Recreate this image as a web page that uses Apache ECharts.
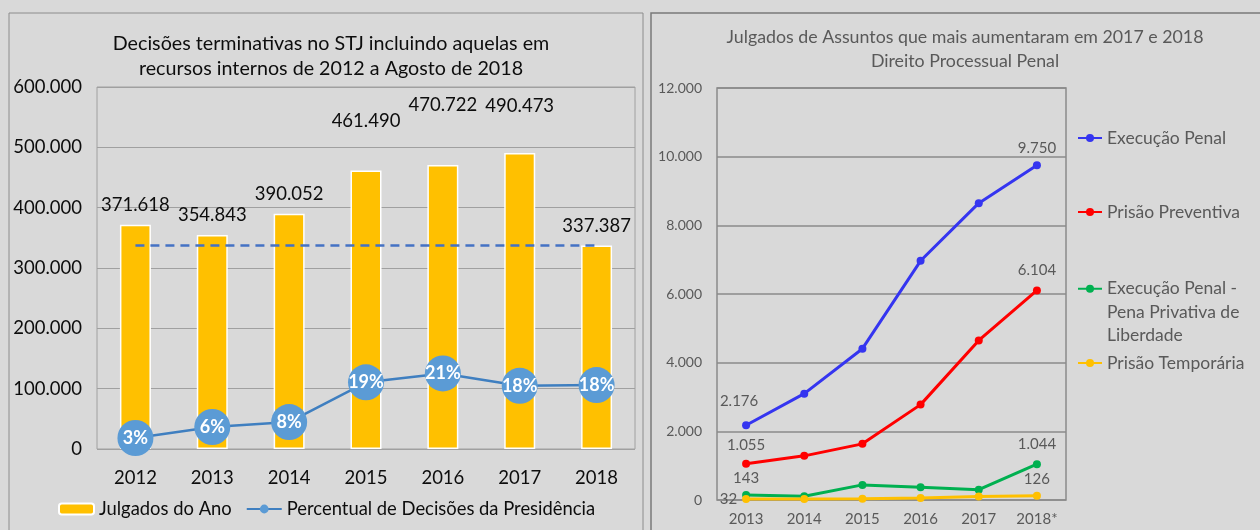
<!DOCTYPE html>
<html>
<head>
<meta charset="utf-8">
<script src="https://cdn.jsdelivr.net/npm/echarts@6/dist/echarts.min.js"></script>
<style>
  html, body { margin: 0; padding: 0; background: #d9d9d9; }
  #main { width: 1260px; height: 530px; }
</style>
</head>
<body>
<div id="main"></div>
<script>
// painel esquerdo
const years = ['2012', '2013', '2014', '2015', '2016', '2017', '2018'];
const julgados = [371618, 354843, 390052, 461490, 470722, 490473, 337387];
const percentual = [0.031, 0.062, 0.076, 0.188, 0.213, 0.178, 0.180];
const referenceLevel = 337387;

// painel direito
const anos = ['2013', '2014', '2015', '2016', '2017', '2018*'];
const execucaoPenal = [2176, 3098, 4407, 6967, 8646, 9750];
const prisaoPreventiva = [1055, 1286, 1635, 2778, 4649, 6104];
const penaPrivativa = [143, 110, 440, 370, 300, 1044];
const prisaoTemporaria = [32, 30, 40, 60, 100, 126];

const FONT = 'Lato';
const GRAY = '#595959';
const INK = '#0d0d0d';

function fmt(v) {
  return String(v).replace(/\B(?=(\d{3})+(?!\d))/g, '.');
}

// distancia dos rotulos das barras (alguns foram erguidos no original)
const barLabelLift = [10, 10, 10, 40, 50, 38, 10];

const barData = julgados.map((v, i) => ({
  value: v,
  label: { distance: barLabelLift[i] }
}));

// rotulos so na primeira e na ultima ponta de cada linha
function endLabels(values, first, last) {
  return values.map((v, i) => {
    if (i === 0) return { value: v, label: Object.assign({ show: true }, first) };
    if (i === values.length - 1) return { value: v, label: Object.assign({ show: true }, last) };
    return v;
  });
}

function lineSeries(name, values, color, first, last) {
  return {
    name: name,
    type: 'line',
    xAxisIndex: 1,
    yAxisIndex: 2,
    data: endLabels(values, first, last),
    symbol: 'circle',
    symbolSize: 8,
    lineStyle: { width: 3, color: color },
    itemStyle: { color: color },
    label: {
      show: false,
      formatter: p => fmt(p.value),
      fontFamily: FONT,
      fontSize: 15,
      color: GRAY
    },
    z: 3
  };
}

const rightLegendText = { fontFamily: FONT, fontSize: 17.5, color: GRAY };
const rightLegend = { left: 1077, padding: 0, itemWidth: 24, itemHeight: 10, textStyle: rightLegendText };

const chart = echarts.init(document.getElementById('main'));

chart.setOption({
  backgroundColor: '#d9d9d9',
  animation: false,
  graphic: [
    { type: 'rect', shape: { x: 9, y: 13, width: 634, height: 540 },
      style: { fill: 'none', stroke: '#8c8c8c', lineWidth: 1 }, silent: true },
    { type: 'rect', shape: { x: 651, y: 13, width: 620, height: 540 },
      style: { fill: 'none', stroke: '#7a7a7a', lineWidth: 1.5 }, silent: true }
  ],
  title: [
    {
      text: 'Decisões terminativas no STJ incluindo aquelas em\nrecursos internos de 2012 a Agosto de 2018',
      left: 326, top: 26, textAlign: 'center',
      textStyle: { fontFamily: FONT, fontSize: 19.7, fontWeight: 'normal', color: INK, lineHeight: 25 }
    },
    {
      text: 'Julgados de Assuntos que mais aumentaram em 2017 e 2018\nDireito Processual Penal',
      left: 960, top: 21, textAlign: 'center',
      textStyle: { fontFamily: FONT, fontSize: 17.8, fontWeight: 'normal', color: GRAY, lineHeight: 23.5 }
    }
  ],
  legend: [
    {
      data: ['Julgados do Ano', 'Percentual de Decisões da Presidência'],
      left: 58, top: 500, padding: 0, itemWidth: 35, itemHeight: 11, itemGap: 14,
      textStyle: { fontFamily: FONT, fontSize: 18.4, color: INK }
    },
    Object.assign({ data: ['Execução Penal'], top: 129 }, rightLegend),
    Object.assign({ data: ['Prisão Preventiva'], top: 203 }, rightLegend),
    Object.assign({
      data: ['Execução Penal - Pena Privativa de Liberdade'], top: 230,
      formatter: () => '\n\nExecução Penal -\nPena Privativa de\nLiberdade'
    }, rightLegend, { textStyle: Object.assign({ lineHeight: 23.5 }, rightLegendText) }),
    Object.assign({ data: ['Prisão Temporária'], top: 354 }, rightLegend)
  ],
  grid: [
    { left: 97, top: 87, width: 538, height: 362, show: true, borderColor: '#a0a0a0', borderWidth: 1 },
    { left: 717, top: 88, width: 349, height: 412, show: true, borderColor: '#8a8a8a', borderWidth: 1.5 }
  ],
  xAxis: [
    {
      type: 'category', gridIndex: 0, data: years,
      axisLine: { show: false }, axisTick: { show: false },
      axisLabel: { fontFamily: FONT, fontSize: 18.5, color: INK, margin: 20 }
    },
    {
      type: 'category', gridIndex: 1, data: anos,
      axisLine: { show: false }, axisTick: { show: false },
      axisLabel: { fontFamily: FONT, fontSize: 15, color: GRAY, margin: 12 }
    }
  ],
  yAxis: [
    {
      type: 'value', gridIndex: 0, min: 0, max: 600000, interval: 100000,
      axisLine: { show: false }, axisTick: { show: false },
      axisLabel: { fontFamily: FONT, fontSize: 18.5, color: INK, margin: 15, formatter: v => fmt(v) },
      splitLine: { lineStyle: { color: '#a0a0a0', width: 1 } }
    },
    {
      type: 'value', gridIndex: 0, min: 0, max: 1.02, show: false,
      splitLine: { show: false }
    },
    {
      type: 'value', gridIndex: 1, min: 0, max: 12000, interval: 2000,
      axisLine: { show: false }, axisTick: { show: false },
      axisLabel: { fontFamily: FONT, fontSize: 14, color: GRAY, margin: 15, formatter: v => fmt(v) },
      splitLine: { lineStyle: { color: '#8a8a8a', width: 1.5 } }
    }
  ],
  series: [
    {
      name: 'Julgados do Ano',
      type: 'bar',
      xAxisIndex: 0, yAxisIndex: 0,
      data: barData,
      barWidth: 31,
      itemStyle: { color: '#ffc000', borderColor: '#ffffff', borderWidth: 1.5 },
      label: {
        show: true, position: 'top',
        formatter: p => fmt(p.value),
        fontFamily: FONT, fontSize: 18.5, color: INK
      },
      markLine: {
        silent: true, symbol: 'none',
        label: { show: false },
        lineStyle: { type: [9, 6], color: '#4472c4', width: 2.5 },
        data: [[{ coord: [years[0], referenceLevel] }, { coord: [years[years.length - 1], referenceLevel] }]]
      }
    },
    {
      name: 'Percentual de Decisões da Presidência',
      type: 'line',
      xAxisIndex: 0, yAxisIndex: 1,
      data: percentual,
      symbol: 'circle',
      symbolSize: 36,
      lineStyle: { width: 2.5, color: '#3f7fc0' },
      itemStyle: { color: '#5b9bd5' },
      label: {
        show: true, position: 'inside',
        formatter: p => Math.round(p.value * 100) + '%',
        fontFamily: FONT, fontSize: 18, fontWeight: 'bold', color: '#ffffff'
      },
      z: 4
    },
    lineSeries('Execução Penal', execucaoPenal, '#3535f0',
      { position: 'top', distance: 13, offset: [-7, 0] }, { position: 'top', distance: 6 }),
    lineSeries('Prisão Preventiva', prisaoPreventiva, '#ff0000',
      { position: 'top', distance: 7 }, { position: 'top', distance: 9 }),
    lineSeries('Execução Penal - Pena Privativa de Liberdade', penaPrivativa, '#00b050',
      { position: 'top', distance: 5 }, { position: 'top', distance: 8 }),
    lineSeries('Prisão Temporária', prisaoTemporaria, '#ffc000',
      { position: 'left', distance: 5 }, { position: 'top', distance: 5 })
  ]
});
</script>
</body>
</html>
